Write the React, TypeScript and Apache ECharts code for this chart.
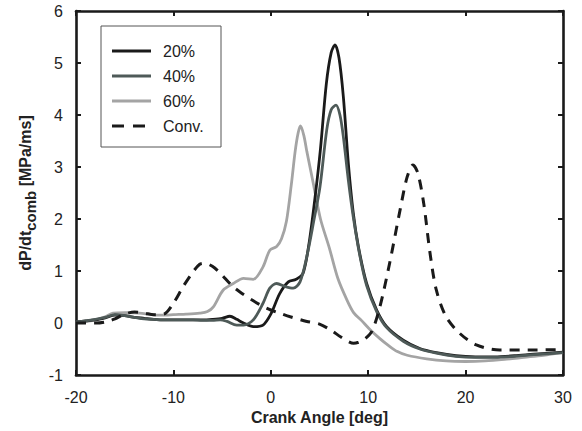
import React, { useEffect, useRef } from "react";
import * as echarts from "echarts";

// Crank angle [deg] and dP/dt_comb [MPa/ms] per case
const angle20 = [-20, -19, -18, -17, -16, -15, -14, -13, -12, -11, -10, -9, -8, -7, -6, -5, -4.2, -3.5, -2.8, -1.8, -0.8, 0, 0.9, 1.8, 2.6, 3.3, 3.9, 4.5, 5.1, 5.7, 6.2, 6.6, 7.0, 7.45, 7.96, 8.47, 8.99, 9.84, 10.87, 11.9, 13.6, 15.3, 17, 19, 21, 23, 25, 27, 30];
const dpdt20 = [0.02, 0.04, 0.06, 0.1, 0.15, 0.14, 0.11, 0.09, 0.07, 0.06, 0.06, 0.06, 0.06, 0.06, 0.07, 0.09, 0.13, 0.07, 0.0, -0.07, -0.04, 0.17, 0.56, 0.79, 0.84, 0.95, 1.5, 2.35, 3.35, 4.6, 5.2, 5.35, 5.1, 4.35, 3.07, 2.11, 1.47, 0.76, 0.25, -0.07, -0.33, -0.49, -0.57, -0.63, -0.65, -0.65, -0.63, -0.6, -0.56];

const angle40 = [-20, -19, -18, -17, -16, -15, -14, -13, -12, -11, -10, -9, -8, -7, -6, -5.2, -4.5, -3.5, -2.8, -1.8, -0.8, -0.1, 0.6, 1.5, 2.3, 3.0, 3.7, 4.4, 5.05, 5.74, 6.2, 6.7, 7.1, 7.45, 7.96, 8.47, 9.16, 9.84, 10.87, 11.9, 13.6, 15.3, 17, 19, 21, 23, 25, 27, 30];
const dpdt40 = [0.02, 0.04, 0.07, 0.11, 0.16, 0.14, 0.11, 0.08, 0.07, 0.06, 0.06, 0.06, 0.06, 0.05, 0.05, 0.06, 0.03, -0.04, -0.04, 0.06, 0.38, 0.67, 0.76, 0.7, 0.67, 0.79, 1.28, 1.95, 2.62, 3.71, 4.1, 4.19, 4.0, 3.58, 2.75, 2.04, 1.28, 0.72, 0.22, -0.09, -0.35, -0.5, -0.58, -0.64, -0.66, -0.66, -0.64, -0.61, -0.57];

const angle60 = [-20, -19, -18, -17, -16.2, -15, -14.5, -13.5, -12.5, -11.5, -10.8, -10, -8.7, -7.3, -6.5, -5.9, -4.9, -3.85, -2.8, -1.8, -0.8, -0.1, 0.6, 1.1, 1.6, 2.1, 2.5, 2.8, 3.05, 3.4, 3.7, 4.4, 5.1, 6.0, 6.9, 7.8, 8.5, 9.3, 10.2, 11.2, 12, 13, 14, 16, 18, 20, 22, 24, 26, 28, 30];
const dpdt60 = [0.01, 0.03, 0.06, 0.12, 0.19, 0.2, 0.2, 0.19, 0.17, 0.15, 0.15, 0.16, 0.17, 0.19, 0.22, 0.31, 0.63, 0.76, 0.86, 0.84, 1.08, 1.4, 1.47, 1.62, 1.95, 2.65, 3.3, 3.65, 3.79, 3.6, 3.3, 2.65, 2.0, 1.45, 0.85, 0.45, 0.2, 0.05, -0.13, -0.3, -0.42, -0.55, -0.62, -0.69, -0.73, -0.74, -0.73, -0.7, -0.66, -0.62, -0.57];

const angleConv = [-20, -19, -18, -17, -16, -15, -14, -13, -12, -11, -10, -9, -8, -7.3, -6.8, -6, -5.2, -4, -3.2, -2, -1.1, 0, 0.9, 2, 3.7, 5, 6.1, 7.2, 8, 8.5, 9, 9.7, 10.4, 11.2, 12.2, 13.3, 14.0, 14.6, 15.1, 15.7, 16.35, 17, 18, 19.4, 21.1, 23.5, 26.6, 30];
const dpdtConv = [0.0, 0.0, 0.0, 0.02, 0.08, 0.17, 0.21, 0.19, 0.16, 0.17, 0.38, 0.7, 0.98, 1.13, 1.15, 1.09, 0.96, 0.72, 0.6, 0.45, 0.35, 0.25, 0.19, 0.12, 0.03, -0.02, -0.13, -0.27, -0.36, -0.39, -0.37, -0.3, -0.15, 0.31, 1.15, 2.2, 2.81, 3.04, 2.88, 2.3, 1.34, 0.63, 0.12, -0.2, -0.42, -0.52, -0.52, -0.51];

const seriesNames = ["20%", "40%", "60%", "Conv."];
const xTicks = { min: -20, max: 30, interval: 10 };
const yTicks = { min: -1, max: 6, interval: 1 };

const FONT = "'Liberation Sans', Arial, sans-serif";
const C20 = "#1a1a1a";
const C40 = "#4e5a58";
const C60 = "#a4a4a4";
const CCONV = "#1a1a1a";

const pairs = (xs: number[], ys: number[]) => xs.map((x, i) => [x, ys[i]]);

export default function App() {
  const ref = useRef<HTMLDivElement>(null);
  useEffect(() => {
    if (!ref.current) return;
    const chart = echarts.init(ref.current, null, { renderer: "svg" });
    const axisLine = { show: true, onZero: false, lineStyle: { color: "#1a1a1a", width: 2.6 } };
    const axisTick = { show: true, inside: true, length: 5, lineStyle: { color: "#1a1a1a", width: 2 } };
    const lineBase = { type: "line", showSymbol: false, symbol: "none", smooth: 0.3 };
    const legendRows = [
      { name: seriesNames[0], color: C20, type: "solid" },
      { name: seriesNames[1], color: C40, type: "solid" },
      { name: seriesNames[2], color: C60, type: "solid" },
      { name: seriesNames[3], color: CCONV, type: [12, 9] },
    ];
    const legendY = [51, 76, 101, 126];
    chart.setOption({
      animation: false,
      backgroundColor: "#ffffff",
      grid: { left: 76, right: 19, top: 11, bottom: 56, containLabel: false },
      xAxis: [
        {
          type: "value", min: xTicks.min, max: xTicks.max, interval: xTicks.interval,
          position: "bottom",
          axisLine, axisTick, splitLine: { show: false },
          axisLabel: { color: "#222", fontSize: 16, fontFamily: FONT, margin: 14 },
          name: "Crank Angle [deg]", nameLocation: "middle", nameGap: 28,
          nameTextStyle: { color: "#222", fontSize: 16, fontWeight: "bold", fontFamily: FONT },
        },
        {
          type: "value", min: xTicks.min, max: xTicks.max, interval: xTicks.interval,
          position: "top", axisLine, axisTick, splitLine: { show: false }, axisLabel: { show: false },
        },
      ],
      yAxis: [
        {
          type: "value", min: yTicks.min, max: yTicks.max, interval: yTicks.interval,
          position: "left",
          axisLine, axisTick, splitLine: { show: false },
          axisLabel: { color: "#222", fontSize: 16, fontFamily: FONT, margin: 13 },
          name: "{a|dP/dt}{b|comb}{a| [MPa/ms]}", nameLocation: "middle", nameRotate: 90, nameGap: 40,
          nameTextStyle: {
            color: "#222", fontFamily: FONT,
            rich: {
              a: { fontSize: 16, fontWeight: "bold", fontFamily: FONT, color: "#222", lineHeight: 22 },
              b: { fontSize: 15, fontWeight: "bold", fontFamily: FONT, color: "#222", padding: [10, 0, 0, 0], lineHeight: 22 },
            },
          },
        },
        {
          type: "value", min: yTicks.min, max: yTicks.max, interval: yTicks.interval,
          position: "right", axisLine, axisTick, splitLine: { show: false }, axisLabel: { show: false },
        },
      ],
      series: [
        { ...lineBase, name: seriesNames[2], data: pairs(angle60, dpdt60), lineStyle: { color: C60, width: 2.8 }, itemStyle: { color: C60 }, z: 2 },
        { ...lineBase, name: seriesNames[0], data: pairs(angle20, dpdt20), lineStyle: { color: C20, width: 2.8 }, itemStyle: { color: C20 }, z: 3 },
        { ...lineBase, name: seriesNames[1], data: pairs(angle40, dpdt40), lineStyle: { color: C40, width: 2.8 }, itemStyle: { color: C40 }, z: 4 },
        { ...lineBase, name: seriesNames[3], data: pairs(angleConv, dpdtConv), lineStyle: { color: CCONV, width: 3, type: [10, 8] }, itemStyle: { color: CCONV }, z: 5 },
      ],
      graphic: [
        {
          type: "group",
          children: [
            { type: "rect", shape: { x: 101, y: 26, width: 120, height: 121 }, style: { fill: "#fff", stroke: "#555", lineWidth: 1 } },
            ...legendRows.flatMap((r, i) => [
              { type: "line", shape: { x1: 112, y1: legendY[i], x2: 151, y2: legendY[i] }, style: { stroke: r.color, lineWidth: 3, lineDash: r.type === "solid" ? null : (r.type as number[]) } },
              { type: "text", x: 163, y: legendY[i], style: { text: r.name, fill: "#222", fontSize: 16, fontFamily: FONT, verticalAlign: "middle" } },
            ]),
          ],
        },
      ],
    });
    return () => chart.dispose();
  }, []);
  return <div ref={ref} style={{ position: "fixed", left: 0, top: 0, width: 582, height: 431 }} />;
}
